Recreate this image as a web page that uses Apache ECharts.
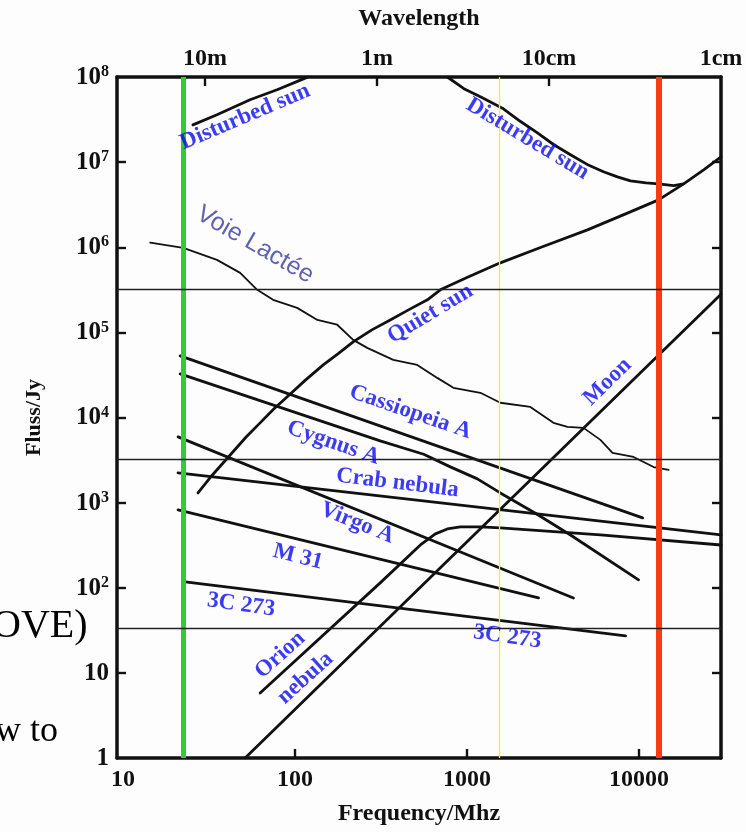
<!DOCTYPE html>
<html>
<head>
<meta charset="utf-8">
<script src="https://cdn.jsdelivr.net/npm/echarts@6/dist/echarts.min.js"></script>
<style>
html,body{margin:0;padding:0;background:#fdfdfd;}
#chart{width:746px;height:832px;}
</style>
</head>
<body>
<div id="chart"></div>
<script>
// ---------- axes ----------
const freqMin = 9.23, freqMax = 30000;           // MHz
const fluxMin = 1, fluxMax = 1e8;                 // Jy
const freqLabelValues = [10, 100, 1000, 10000];
const freqTickValues = [100, 1000, 10000];
const fluxLabelValues = [1, 10, 100, 1e3, 1e4, 1e5, 1e6, 1e7, 1e8];
const fluxTickValues = [10, 100, 1e3, 1e4, 1e5, 1e6, 1e7];
const wavelengthValues = [10, 1, 0.1, 0.01];      // metres
const wavelengthLabels = ['10m', '1m', '10cm', '1cm'];
const wavelengthTickValues = [10, 1, 0.1];

// ---------- curves: [frequency MHz, flux Jy] ----------
const disturbedSunLow = [[25.5,2.74e7],[35.2,3.6e7],[54.8,5.4e7],[78.7,7.08e7],[112,9.5e7],[119,1e8]];
const disturbedSunHigh = [[769,1e8],[960,7.3e7],[1197,5.85e7],[1629,4.23e7],[2050,3.0e7],[2570,2.21e7],[3200,1.6e7],[4000,1.22e7],[5000,9.4e6],[6220,7.7e6],[7500,6.7e6],[8930,6.03e6],[11000,5.7e6],[13000,5.56e6],[15900,5.3e6],[18200,5.56e6]];
const quietSun = [[27.3,1300],[33,2100],[42,3630],[52,5900],[62.7,8650],[75,1.25e4],[90.2,1.75e4],[115,2.75e4],[146,4.15e4],[180,5.7e4],[218,7.73e4],[280,1.07e5],[358,1.4e5],[460,1.85e5],[589,2.41e5],[700,3.16e5],[1000,4.4e5],[1563,6.56e5],[2700,1.0e6],[5020,1.6e6],[8500,2.5e6],[13000,3.6e6],[18200,5.56e6],[24000,8.2e6],[30000,1.15e7]];
const milkyWay = [[14.4,1.13e6],[22.4,9.84e5],[35.2,7.11e5],[48,5.0e5],[60.3,3.16e5],[74.6,2.41e5],[103,1.94e5],[135,1.4e5],[176,1.23e5],[218,8.17e4],[263,6.58e4],[373,4.75e4],[514,4.15e4],[672,2.92e4],[834,2.23e4],[1197,1.95e4],[1563,1.49e4],[2337,1.33e4],[3183,8650],[3840,7760],[4760,7550],[5970,5460],[7020,3840],[9300,3440],[12170,2620],[14870,2420]];
const cassiopeiaA = [[21.5,5.3e4],[10500,661]];
const cygnusA = [[21.5,3.25e4],[313,5310],[560,3700],[800,2630],[1150,1900],[1563,1300],[2500,750],[4000,417],[9950,124]];
const crabNebula = [[20.9,2234],[30000,417]];
const virgoA = [[20.9,5920],[4160,75.9]];
const m31 = [[20.9,821],[2607,75.9]];
const c3c273 = [[23,117],[8360,27.2]];
const orionNebula = [[62.7,5.8],[313,114],[536,318],[655,429],[769,491],[916,518],[1197,518],[1563,504],[5970,417],[30000,318]];
const moon = [[51.3,1],[30000,2.8e5]];

// ---------- reference lines ----------
const greenFreq = 22.4, yellowFreq = 1545, redFreq = 13000;
const horizontalFlux = [3.22e5, 3260, 33.4];

// ---------- curve labels ----------
const labelTexts = ['Disturbed sun','Disturbed sun','Quiet sun','Cassiopeia A','Cygnus A','Crab nebula','Virgo A','M 31','3C 273','3C 273','Orion','nebula','Moon'];
const labelFreq = [51.3, 2250, 612, 469, 167, 394, 230, 104, 48.6, 1718, 82, 115, 6560];
const labelFlux = [3.4e7, 1.88e7, 1.65e5, 1.16e4, 5030, 1700, 577, 230, 62.8, 26.4, 16.2, 8.7, 2.62e4];
const labelAngle = [23, -31, 31, -19, -19, -7, -22, -14, -8, -8, 42, 42, 44];
const milkyWayLabel = 'Voie Lactée';
const milkyWayLabelPos = [58.6, 1.07e6];

// ---------- chart ----------
const serif = 'Liberation Serif';
const ink = '#111';
const blue = '#0a0af0';
const chart = echarts.init(document.getElementById('chart'), null, {renderer: 'canvas'});

function isPow10(v) { const e = Math.log10(v); return Math.abs(e - Math.round(e)) < 1e-6; }
function curve(name, data, width) {
  return {
    name: name, type: 'line', data: data, symbol: 'none', showSymbol: false,
    smooth: false, lineStyle: {color: ink, width: width || 2.8, join: 'round', cap: 'round'},
    silent: true, z: 3, animation: false
  };
}
const tickText = {fontFamily: serif, fontWeight: 'bold', fontSize: 24, color: ink};
const axisLineStyle = {show: true, onZero: false, lineStyle: {color: ink, width: 3.5}};
const tickStyle = {show: true, inside: true, length: 9, lineStyle: {color: ink, width: 2.4}};

const labelData = labelTexts.map((t, i) => ({
  name: t, value: [labelFreq[i], labelFlux[i]],
  label: {rotate: labelAngle[i]}
}));

const option = {
  backgroundColor: '#fdfdfd',
  animation: false,
  grid: {left: 117, right: 25, top: 77, bottom: 74, containLabel: false},
  xAxis: [
    {
      type: 'log', position: 'bottom', min: freqMin, max: freqMax,
      axisLine: axisLineStyle,
      axisTick: Object.assign({customValues: freqTickValues}, tickStyle),
      axisLabel: Object.assign({customValues: freqLabelValues, margin: 10,
        formatter: v => isPow10(v) ? String(Math.round(v)) : ''}, tickText),
      splitLine: {show: false},
      name: 'Frequency/Mhz', nameLocation: 'middle', nameGap: 44,
      nameTextStyle: {fontFamily: serif, fontWeight: 'bold', fontSize: 24, color: ink}
    },
    {
      type: 'log', position: 'top', inverse: true, min: 300 / freqMax, max: 300 / freqMin,
      axisLine: axisLineStyle,
      axisTick: Object.assign({customValues: wavelengthTickValues}, tickStyle),
      axisLabel: Object.assign({customValues: wavelengthValues, margin: 6,
        formatter: v => {
          for (let i = 0; i < wavelengthValues.length; i++) {
            if (Math.abs(Math.log10(v) - Math.log10(wavelengthValues[i])) < 1e-6) return wavelengthLabels[i];
          }
          return '';
        }}, tickText),
      splitLine: {show: false},
      name: 'Wavelength', nameLocation: 'middle', nameGap: 46,
      nameTextStyle: {fontFamily: serif, fontWeight: 'bold', fontSize: 24, color: ink}
    }
  ],
  yAxis: [
    {
      type: 'log', position: 'left', min: fluxMin, max: fluxMax,
      axisLine: axisLineStyle,
      axisTick: Object.assign({customValues: fluxTickValues}, tickStyle),
      axisLabel: {
        customValues: fluxLabelValues, margin: 8,
        formatter: v => {
          if (!isPow10(v)) return '';
          const e = Math.round(Math.log10(v));
          if (e === 0) return '{b|1}';
          if (e === 1) return '{b|10}';
          return '{b|10}{s|' + e + '}';
        },
        rich: {
          b: {fontFamily: serif, fontWeight: 'bold', fontSize: 25, color: ink, lineHeight: 26, verticalAlign: 'bottom'},
          s: {fontFamily: serif, fontWeight: 'bold', fontSize: 16, color: ink, lineHeight: 14, verticalAlign: 'top'}
        }
      },
      splitLine: {show: false},
      name: 'Fluss/Jy', nameLocation: 'middle', nameGap: 72, nameRotate: 90,
      nameTextStyle: {fontFamily: serif, fontWeight: 'bold', fontSize: 22, color: ink}
    },
    {
      type: 'log', position: 'right', min: fluxMin, max: fluxMax,
      axisLine: axisLineStyle,
      axisTick: Object.assign({customValues: fluxTickValues}, tickStyle),
      axisLabel: {show: false},
      splitLine: {show: false}
    }
  ],
  series: [
    curve('Disturbed sun low', disturbedSunLow),
    curve('Disturbed sun high', disturbedSunHigh),
    curve('Quiet sun', quietSun),
    curve('Voie Lactée', milkyWay, 1.8),
    curve('Cassiopeia A', cassiopeiaA),
    curve('Cygnus A', cygnusA),
    curve('Crab nebula', crabNebula),
    curve('Virgo A', virgoA),
    curve('M 31', m31),
    curve('3C 273', c3c273),
    curve('Orion nebula', orionNebula),
    curve('Moon', moon),
    {
      name: 'labels', type: 'scatter', data: labelData, symbolSize: 1,
      itemStyle: {color: 'rgba(0,0,0,0)'}, silent: true, z: 6,
      label: {show: true, position: 'inside', formatter: '{b}',
        fontFamily: serif, fontWeight: 'bold', fontSize: 23, color: blue}
    },
    {
      name: 'milky way label', type: 'scatter',
      data: [{name: milkyWayLabel, value: milkyWayLabelPos}], symbolSize: 1,
      itemStyle: {color: 'rgba(0,0,0,0)'}, silent: true, z: 6,
      label: {show: true, position: 'inside', formatter: '{b}', rotate: -30,
        fontFamily: 'Liberation Sans', fontWeight: 'normal', fontSize: 25, color: '#3a3a9e'}
    },
    {
      name: 'guides', type: 'line', data: [], silent: true, z: 8,
      markLine: {
        silent: true, symbol: ['none', 'none'], animation: false,
        label: {show: false},
        data: [
          {xAxis: greenFreq, lineStyle: {color: '#36c936', width: 5, type: 'solid'}},
          {xAxis: redFreq, lineStyle: {color: '#ff3a12', width: 6, type: 'solid'}},
          {xAxis: yellowFreq, lineStyle: {color: '#f5f500', width: 1.3, type: 'solid'}}
        ].concat(horizontalFlux.map(v => ({yAxis: v, lineStyle: {color: '#222', width: 1.3, type: 'solid'}})))
      }
    }
  ],
  graphic: [
    {type: 'text', left: -8, top: 606, z: 0, style: {text: 'OVE)', font: '40px "Liberation Serif"', fill: '#000'}},
    {type: 'text', left: -5, top: 714, z: 0, style: {text: 'w to', font: '36px "Liberation Serif"', fill: '#000'}}
  ]
};
chart.setOption(option);
</script>
</body>
</html>
